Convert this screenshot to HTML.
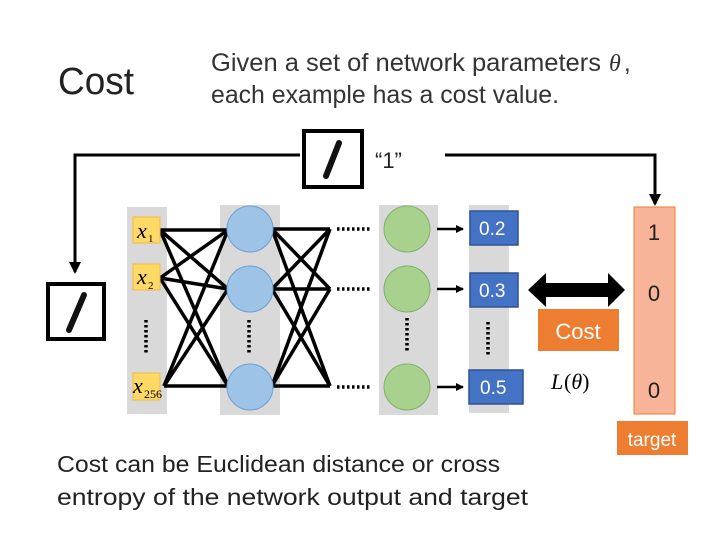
<!DOCTYPE html>
<html><head><meta charset="utf-8"><style>
body{margin:0;background:#fff;}
svg{display:block;font-family:"Liberation Sans",sans-serif;}
</style></head><body>
<svg width="720" height="540" viewBox="0 0 720 540" xmlns="http://www.w3.org/2000/svg">
<defs>
<marker id="a" markerWidth="8" markerHeight="8" refX="7" refY="4" orient="auto" markerUnits="userSpaceOnUse"><path d="M0,0 L8,4 L0,8z" fill="#000"/></marker>
<marker id="b" markerWidth="12" markerHeight="12" refX="10" refY="6" orient="auto" markerUnits="userSpaceOnUse"><path d="M0,0 L12,6 L0,12z" fill="#000"/></marker>
</defs>
<text x="58" y="94" font-size="38" fill="#222" textLength="76" lengthAdjust="spacingAndGlyphs">Cost</text>
<text x="211" y="71" font-size="25" fill="#333" textLength="390" lengthAdjust="spacingAndGlyphs">Given a set of network parameters</text>
<text x="609" y="71" font-size="24" font-style="italic" font-family="Liberation Serif,serif" fill="#333">θ</text>
<text x="624" y="71" font-size="24" fill="#333">,</text>
<text x="211" y="103" font-size="25" fill="#333" textLength="348" lengthAdjust="spacingAndGlyphs">each example has a cost value.</text>

<polyline points="300,155 75,155 75,272" fill="none" stroke="#000" stroke-width="3" marker-end="url(#b)"/>
<polyline points="445,155 655,155 655,204" fill="none" stroke="#000" stroke-width="3" marker-end="url(#b)"/>
<rect x="304" y="131" width="58" height="56" fill="#fff" stroke="#000" stroke-width="4"/>
<line x1="339" y1="143" x2="326" y2="176" stroke="#111" stroke-width="6" stroke-linecap="round"/>
<text x="375" y="168" font-size="22" fill="#222">“1”</text>
<rect x="48" y="284" width="56" height="55" fill="#fff" stroke="#000" stroke-width="4"/>
<line x1="84" y1="295" x2="69" y2="330" stroke="#111" stroke-width="6" stroke-linecap="round"/>

<rect x="127" y="207" width="40" height="207" fill="#d9d9d9"/>
<rect x="220" y="205" width="60" height="210" fill="#d9d9d9"/>
<rect x="379" y="205" width="59" height="210" fill="#d9d9d9"/>
<rect x="469" y="205" width="40" height="208" fill="#d9d9d9"/>

<g stroke="#000" stroke-width="3.5">
<line x1="160" y1="230" x2="228" y2="230"/><line x1="160" y1="230" x2="228" y2="289"/><line x1="160" y1="230" x2="228" y2="386"/>
<line x1="160" y1="278" x2="228" y2="230"/><line x1="160" y1="278" x2="228" y2="289"/><line x1="160" y1="278" x2="228" y2="386"/>
<line x1="164" y1="386" x2="228" y2="230"/><line x1="164" y1="386" x2="228" y2="289"/><line x1="164" y1="386" x2="228" y2="386"/>
<line x1="272" y1="229" x2="330" y2="229"/><line x1="272" y1="229" x2="330" y2="289"/><line x1="272" y1="229" x2="330" y2="386"/>
<line x1="272" y1="289" x2="330" y2="229"/><line x1="272" y1="289" x2="330" y2="289"/><line x1="272" y1="289" x2="330" y2="386"/>
<line x1="272" y1="386" x2="330" y2="229"/><line x1="272" y1="386" x2="330" y2="289"/><line x1="272" y1="386" x2="330" y2="386"/>
</g>
<g fill="#ffd966" stroke="#f4b942" stroke-width="1">
<rect x="133" y="217" width="27" height="26"/><rect x="133" y="264" width="27" height="26"/><rect x="133" y="373" width="27" height="27"/>
</g>
<g font-family="Liberation Serif,serif" font-style="italic" fill="#000">
<text x="137" y="238" font-size="22">x</text><text x="148" y="242" font-size="11" font-style="normal">1</text>
<text x="137" y="284" font-size="22">x</text><text x="148" y="289" font-size="11" font-style="normal">2</text>
<text x="133" y="393" font-size="22">x</text><text x="144" y="398" font-size="12" font-style="normal">256</text>
</g>
<g fill="#9dc3e6" stroke="#6f9fd0"><circle cx="250" cy="229" r="23"/><circle cx="250" cy="289" r="23"/><circle cx="250" cy="387" r="23"/></g>
<g fill="#a9d18e" stroke="#7fb069"><circle cx="407" cy="229" r="23"/><circle cx="407" cy="289" r="23"/><circle cx="407" cy="387" r="23"/></g>
<g stroke="#000" stroke-width="3.5" stroke-dasharray="2.5,2.5">
<line x1="146" y1="320" x2="146" y2="353"/><line x1="249" y1="320" x2="249" y2="353"/><line x1="407" y1="318" x2="407" y2="352"/><line x1="488" y1="322" x2="488" y2="356"/><line x1="654" y1="327" x2="654" y2="361"/>
<line x1="337" y1="229" x2="371" y2="229"/><line x1="337" y1="289" x2="371" y2="289"/><line x1="337" y1="387" x2="371" y2="387"/>
</g>
<g stroke="#000" stroke-width="2.5">
<line x1="437" y1="229" x2="463" y2="229" marker-end="url(#a)"/><line x1="437" y1="289" x2="463" y2="289" marker-end="url(#a)"/><line x1="437" y1="387" x2="463" y2="387" marker-end="url(#a)"/>
</g>
<g fill="#4472c4" stroke="#2f528f" stroke-width="1.5">
<rect x="470" y="211" width="48" height="34"/><rect x="470" y="273" width="48" height="34"/><rect x="469" y="370" width="54" height="34"/>
</g>
<g fill="#fff" font-size="19"><text x="479" y="235">0.2</text><text x="479" y="297">0.3</text><text x="480" y="394">0.5</text></g>

<path d="M528,290 L546,273 L546,283 L608,283 L608,273 L625,290 L608,307 L608,297 L546,297 L546,307z" fill="#000"/>
<rect x="538" y="309" width="81" height="42" fill="#ed7d31"/>
<text x="578" y="339" font-size="22" fill="#fff" text-anchor="middle">Cost</text>
<text x="551" y="389" font-size="22" font-style="italic" font-family="Liberation Serif,serif">L</text>
<text x="564" y="389" font-size="22" font-family="Liberation Serif,serif">(<tspan font-style="italic">θ</tspan>)</text>

<rect x="634" y="207" width="41" height="207" fill="#f8b499" stroke="#ed7d31" stroke-width="1"/>
<g font-size="22" fill="#222" text-anchor="middle"><text x="654" y="240">1</text><text x="654" y="301">0</text><text x="654" y="398">0</text></g>
<rect x="617" y="421" width="71" height="34" fill="#ed7d31"/>
<text x="652" y="446" font-size="19" fill="#fff" text-anchor="middle">target</text>

<text x="57" y="472" font-size="23" fill="#222" textLength="443" lengthAdjust="spacingAndGlyphs">Cost can be Euclidean distance or cross</text>
<text x="57" y="505" font-size="23" fill="#222" textLength="471" lengthAdjust="spacingAndGlyphs">entropy of the network output and target</text>
</svg>
</body></html>
